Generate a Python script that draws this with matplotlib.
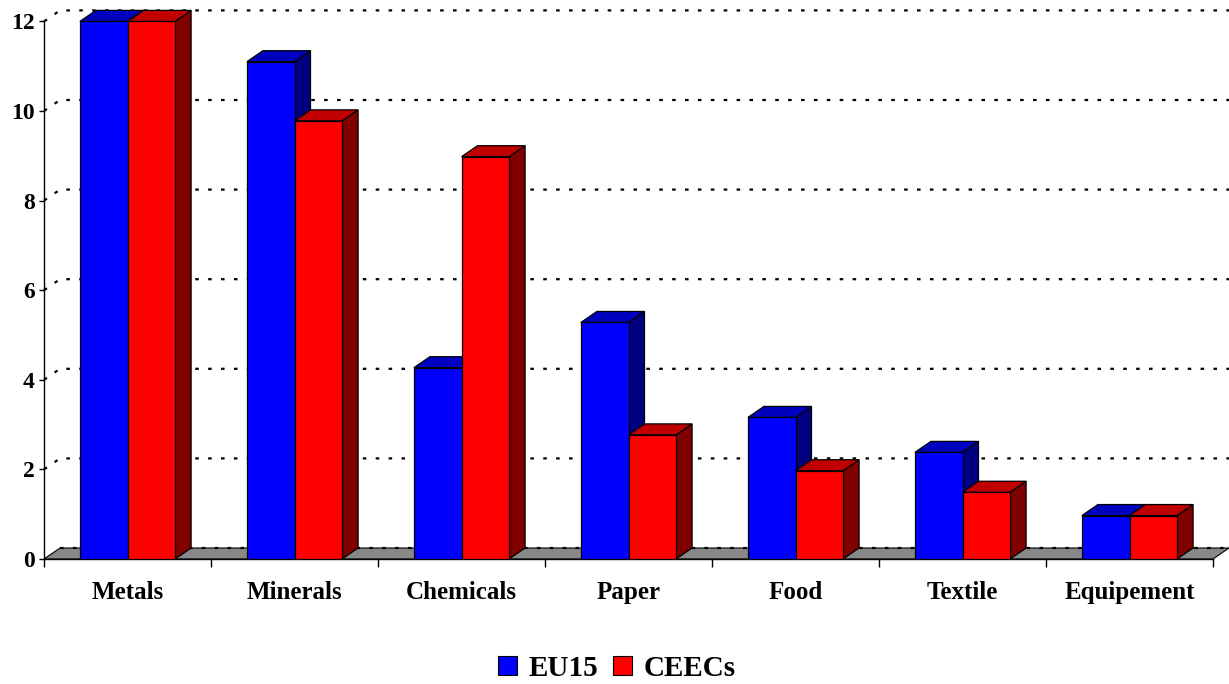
import matplotlib
matplotlib.use('Agg')
import matplotlib.pyplot as plt
from matplotlib.patches import Polygon, Patch

# energy intensity by sector
sectors = ['Metals', 'Minerals', 'Chemicals', 'Paper', 'Food', 'Textile', 'Equipement']
eu15 = [12.0, 11.1, 4.27, 5.28, 3.16, 2.38, 0.97]
ceecs = [12.0, 9.78, 8.98, 2.77, 1.97, 1.49, 0.97]
yticks = [0, 2, 4, 6, 8, 10, 12]

plt.rcParams['font.family'] = ['Liberation Serif', 'DejaVu Serif']
plt.rcParams['font.weight'] = 'bold'

W, H = 1229, 684
fig = plt.figure(figsize=(W / 100, H / 100), dpi=100)
ax = fig.add_axes([44 / W, 125 / H, (W - 44) / W, (H - 125) / H])
ax.set_xlim(0, 1185 / 167)
ax.set_ylim(0, 559 / 44.8)

# fake 3d depth, in data units
dx = 16 / 167
dy = 11 / 44.8
bw = 0.285
n = len(sectors)

# floor
floor = Polygon([(0, 0), (n, 0), (n + dx, dy), (dx, dy)], closed=True,
                facecolor='#888888', edgecolor='black', lw=0.8, zorder=1)
ax.add_patch(floor)

# dotted gridlines on the back wall
for v in yticks:
    if v == 0:
        xs, ys = [dx, n + dx], [dy, dy]
    else:
        xs, ys = [0, dx, n + dx], [v, v + dy, v + dy]
    ax.plot(xs, ys, color='black', lw=1.6, ls=(0, (1.6, 4.2)), zorder=2,
            clip_on=False)


def box(x0, h, front, top, side, z):
    ax.bar(x0, h, width=bw, align='edge', color=front, edgecolor='black',
           lw=0.9, zorder=z + 1)
    x1 = x0 + bw
    ax.add_patch(Polygon([(x1, 0), (x1 + dx, dy), (x1 + dx, h + dy), (x1, h)],
                         closed=True, facecolor=side, edgecolor='black',
                         lw=0.9, zorder=z))
    ax.add_patch(Polygon([(x0, h), (x1, h), (x1 + dx, h + dy), (x0 + dx, h + dy)],
                         closed=True, facecolor=top, edgecolor='black',
                         lw=0.9, zorder=z))


for i in range(n):
    left = i + 0.5 - bw
    box(left, eu15[i], '#0000FF', '#0000BF', '#000080', 3)
    box(i + 0.5, ceecs[i], '#FF0000', '#C00000', '#800000', 5)

# axes
for s in ['top', 'right']:
    ax.spines[s].set_visible(False)
ax.spines['left'].set_bounds(0, 12)
ax.spines['bottom'].set_bounds(0, n)
ax.spines['left'].set_linewidth(1)
ax.spines['bottom'].set_linewidth(1)

ax.set_yticks(yticks)
ax.set_yticklabels([str(v) for v in yticks], fontsize=17, fontweight='bold')
ax.tick_params(axis='y', direction='out', length=3.6, width=1, pad=3)

ax.set_xticks([i + 0.5 for i in range(n)])
ax.set_xticklabels(sectors, fontsize=18, fontweight='bold')
ax.set_xticks(range(n + 1), minor=True)
ax.tick_params(axis='x', which='major', length=0, pad=16)
ax.tick_params(axis='x', which='minor', direction='out', length=6, width=1)

handles = [Patch(facecolor='#0000FF', edgecolor='black', lw=0.8),
           Patch(facecolor='#FF0000', edgecolor='black', lw=0.8)]
fig.legend(handles, ['EU15', 'CEECs'], loc='center',
           bbox_to_anchor=(617 / W, 1 - 668 / H), ncol=2, frameon=False,
           prop={'family': 'Liberation Serif', 'weight': 'bold', 'size': 21},
           handlelength=0.65, handleheight=0.65, handletextpad=0.4,
           columnspacing=0.5, borderpad=0)

fig.savefig('out.png', dpi=100)
